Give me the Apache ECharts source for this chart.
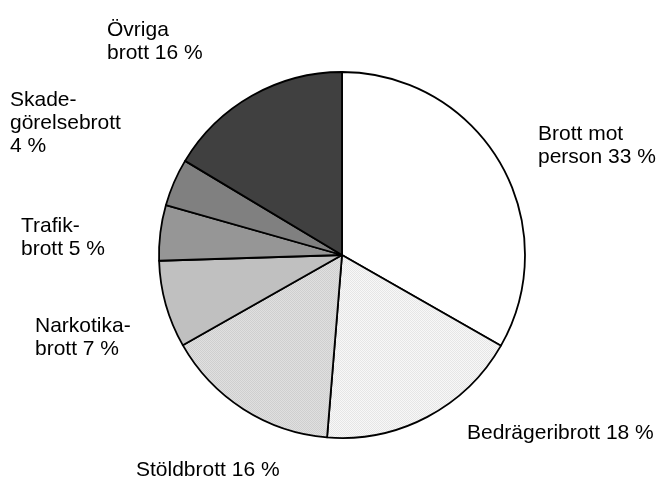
<!DOCTYPE html>
<html>
<head>
<meta charset="utf-8">
<script src="https://cdn.jsdelivr.net/npm/echarts@6/dist/echarts.min.js"></script>
<style>
  html, body { margin: 0; padding: 0; background: #fff; }
  #pieChart { width: 659px; height: 479px; }
</style>
</head>
<body>
<div id="pieChart"></div>
<script>
  // andelar av brott, medurs från kl 12
  var categories = ['Brott mot person', 'Bedrägeribrott', 'Stöldbrott', 'Narkotikabrott', 'Trafikbrott', 'Skadegörelsebrott', 'Övriga brott']
  var values = [33.25, 18.05, 15.5, 7.7, 4.9, 4.2, 16.4]
  var labelTexts = [
    'Brott mot\nperson 33 %',
    'Bedrägeribrott 18 %',
    'Stöldbrott 16 %',
    'Narkotika-\nbrott 7 %',
    'Trafik-\nbrott 5 %',
    'Skade-\ngörelsebrott\n4 %',
    'Övriga\nbrott 16 %'
  ]

  // etiketternas placering (vänsterkant, överkant)
  var labelPos = [
    [538, 123], [467, 422], [136, 459], [35, 315], [21, 215], [10, 89], [107, 19]
  ]

  // fint prickmönster som i originalet
  function dotPattern(base, dot) {
    var c = document.createElement('canvas')
    c.width = 2
    c.height = 2
    var ctx = c.getContext('2d')
    ctx.fillStyle = base
    ctx.fillRect(0, 0, 2, 2)
    ctx.fillStyle = dot
    ctx.fillRect(0, 0, 1, 1)
    ctx.fillRect(1, 1, 1, 1)
    return { image: c, repeat: 'repeat' }
  }

  var fills = [
    '#ffffff',
    dotPattern('#f8f8f8', '#e6e6e6'),
    dotPattern('#e0e0e0', '#cfcfcf'),
    '#c0c0c0',
    '#969696',
    '#808080',
    '#404040'
  ]

  var myChart = echarts.init(document.getElementById('pieChart'))

  var option = {
    animation: false,
    series: [{
      type: 'pie',
      center: [342, 255],
      radius: 183,
      startAngle: 90,
      clockwise: true,
      silent: true,
      data: categories.map(function (name, i) {
        return {
          name: name,
          value: values[i],
          itemStyle: { color: fills[i] }
        }
      }),
      itemStyle: {
        borderColor: '#000',
        borderWidth: 1.8
      },
      label: {
        show: true,
        position: 'outside',
        formatter: function (p) { return labelTexts[p.dataIndex] },
        fontFamily: 'Liberation Sans, Arial, sans-serif',
        fontSize: 21,
        lineHeight: 23,
        color: '#000',
        align: 'left',
        overflow: 'none',
        width: 250
      },
      labelLine: { show: false },
      labelLayout: function (params) {
        var pos = labelPos[params.dataIndex]
        return {
          x: pos[0],
          y: pos[1],
          align: 'left',
          verticalAlign: 'top'
        }
      }
    }]
  }

  myChart.setOption(option)

  window.addEventListener('resize', function () {
    myChart.resize()
  })
</script>
</body>
</html>
